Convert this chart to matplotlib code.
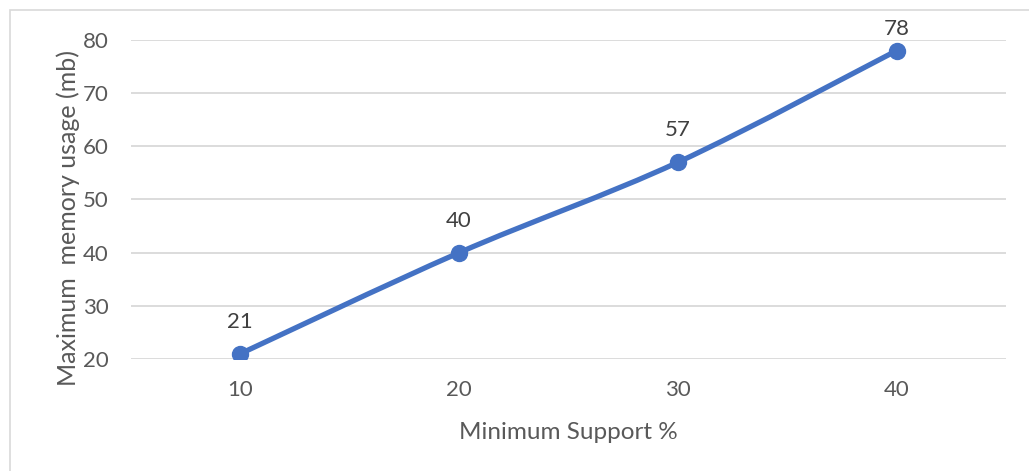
import matplotlib
matplotlib.use("Agg")
import matplotlib.pyplot as plt
from matplotlib.path import Path
from matplotlib.patches import PathPatch, Rectangle

support = ["10", "20", "30", "40"]
memory_mb = [21, 40, 57, 78]

BLUE = "#4472C4"
GREY_TXT = "#595959"

plt.rcParams["font.family"] = ["Lato", "DejaVu Sans"]


def smooth_path(xs, ys):
    """Catmull-Rom style bezier through the points (Excel 'smoothed line')."""
    pts = list(zip(xs, ys))
    verts = [pts[0]]
    codes = [Path.MOVETO]
    n = len(pts)
    for i in range(n - 1):
        p0 = pts[max(i - 1, 0)]
        p1 = pts[i]
        p2 = pts[i + 1]
        p3 = pts[min(i + 2, n - 1)]
        c1 = (p1[0] + (p2[0] - p0[0]) / 6, p1[1] + (p2[1] - p0[1]) / 6)
        c2 = (p2[0] - (p3[0] - p1[0]) / 6, p2[1] - (p3[1] - p1[1]) / 6)
        verts += [c1, c2, p2]
        codes += [Path.CURVE4] * 3
    return Path(verts, codes)


W, H = 1029, 471
fig = plt.figure(figsize=(W / 100, H / 100), dpi=100)
ax = fig.add_axes([0.1273, 0.2378, 0.8504, 0.6773])

xs = list(range(len(support)))
ax.add_patch(PathPatch(smooth_path(xs, memory_mb), facecolor="none",
                       edgecolor=BLUE, lw=3.8, capstyle="round", zorder=3))
ax.plot(xs, memory_mb, ls="none", marker="o", ms=11.5, color=BLUE, zorder=4)

ax.set_xlim(-0.5, len(support) - 0.5)
ax.set_ylim(20, 80)

# data labels sit ~32px above the point, but stay inside the chart frame
for x, v in zip(xs, memory_mb):
    px, py = ax.transData.transform((x, v))
    ly = min(py + 32, H - 29)
    fig.text(px / W, ly / H, str(v), ha="center", va="center",
             fontsize=16, color="#404040")

ax.set_xticks(xs)
ax.set_xticklabels(support)
ax.set_yticks(range(20, 81, 10))
ax.tick_params(length=0, labelsize=16, labelcolor=GREY_TXT)
ax.tick_params(axis="y", pad=16)
ax.tick_params(axis="x", pad=15)
ax.grid(axis="y", color="#D9D9D9", lw=1.3)
ax.set_axisbelow(True)
for s in ax.spines.values():
    s.set_visible(False)

ax.set_xlabel("Minimum Support %", fontsize=17.5, color=GREY_TXT, labelpad=16)
ax.set_ylabel("Maximum  memory usage (mb)", fontsize=18, color=GREY_TXT,
              va="center")
ax.yaxis.set_label_coords(-0.072, 0.442)

# chart frame (right and bottom edges fall outside the image)
fig.patches.append(Rectangle((10 / W, -0.1), 1.2, 1 - 10 / H + 0.1,
                             transform=fig.transFigure, fill=False,
                             edgecolor="#D9D9D9", lw=1.2))

fig.savefig("out.png", dpi=100)
